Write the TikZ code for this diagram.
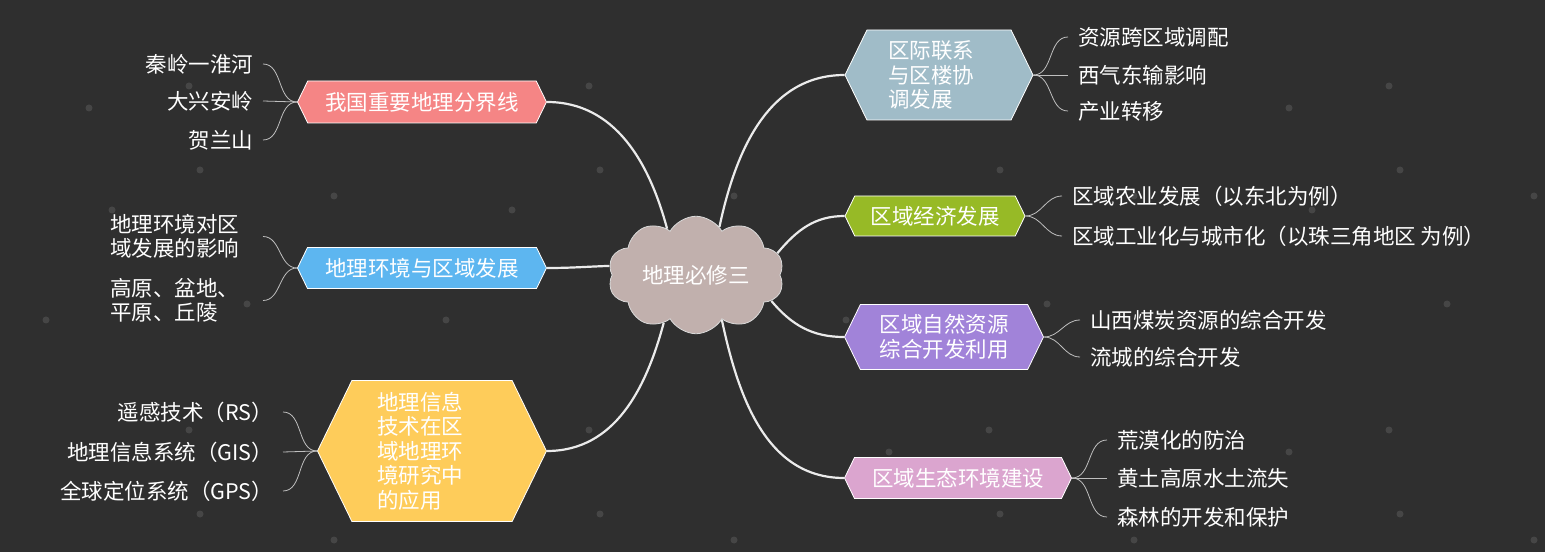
\documentclass[tikz,border=0pt]{standalone}
\usepackage{fontspec}
\newfontfamily\cjk{Noto Sans CJK SC}
\usepackage{tikz}
\usetikzlibrary{shapes.symbols}

\definecolor{bgdark}{RGB}{47,47,47}
\definecolor{dotgray}{RGB}{70,70,70}
\definecolor{cloudgray}{RGB}{193,176,173}
\definecolor{hexpink}{RGB}{245,133,133}
\definecolor{hexblue}{RGB}{93,182,240}
\definecolor{hexyellow}{RGB}{254,204,90}
\definecolor{hexsteel}{RGB}{160,188,200}
\definecolor{hexgreen}{RGB}{151,186,38}
\definecolor{hexpurple}{RGB}{161,131,217}
\definecolor{hexlav}{RGB}{219,165,207}

\begin{document}
\begin{tikzpicture}[x=1pt,y=1pt,
  every node/.style={font=\fontsize{21.5}{24.5}\selectfont\cjk, text=white},
  hexa/.style={signal, signal to=west and east, signal pointer angle=128,
    draw=white, line width=0.8pt, inner sep=0pt},
  cloudy/.style={cloud, cloud puffs=10, cloud puff arc=120, aspect=1.6,
    minimum width=176pt, minimum height=108pt, inner sep=0pt,
    fill=cloudgray, draw=white!85!black, line width=0.8pt},
  leaf/.style={inner sep=0pt, outer xsep=10pt},
  twig/.style={draw=white!75!black, line width=0.8pt},
  limb/.style={draw=white!92!black, line width=2.2pt}]
  \useasboundingbox (0,0) rectangle (1545,552);
  \fill[bgdark] (0,0) rectangle (1545,552);
  % faint background dots
  \foreach \dx in {-400,0,400,800,1200} {
    \foreach \px/\py in {189/86,200/170,89/108,112/210,334/196,247/304,46/320}
      \fill[dotgray] ({\px+\dx},{552-\py}) circle (3.5);
    \foreach \px/\py in {189/430,200/514,89/452,334/540}
      \fill[dotgray] ({\px+\dx},{552-\py}) circle (3.5);
  }

  % centre and main topics
  \node[cloudy] (core) at (696,277) {地理必修三};
  \node[hexa, fill=hexpink, minimum width=249pt, minimum height=42pt] (bound) at (422,450) {我国重要地理分界线};
  \node[hexa, fill=hexblue, minimum width=249pt, minimum height=41pt] (envdev) at (422,284) {地理环境与区域发展};
  \node[hexa, fill=hexyellow, minimum width=229pt, minimum height=141pt,
    text width=110pt, align=left] (geoinfo) at (432,101) {地理信息\\技术在区\\域地理环\\境研究中\\的应用};
  \node[hexa, fill=hexsteel, minimum width=188pt, minimum height=90pt,
    text width=102pt, align=left] (link) at (939,477) {区际联系\\与区楼协\\调发展};
  \node[hexa, fill=hexgreen, minimum width=180pt, minimum height=40pt] (econ) at (935,336) {区域经济发展};
  \node[hexa, fill=hexpurple, minimum width=199pt, minimum height=65pt,
    align=center] (natres) at (944,215) {区域自然资源\\综合开发利用};
  \node[hexa, fill=hexlav, minimum width=227pt, minimum height=41pt] (ecol) at (958,74) {区域生态环境建设};

  % left leaves
  \node[leaf, anchor=east] (qinling) at (263,488) {秦岭一淮河};
  \node[leaf, anchor=east] (xingan) at (263,451) {大兴安岭};
  \node[leaf, anchor=east] (helan) at (263,412) {贺兰山};
  \node[leaf, anchor=east, text width=143pt, align=left] (effect) at (263,315.5) {地理环境对区\\域发展的影响};
  \node[leaf, anchor=east, text width=143pt, align=left] (terrain) at (263,251.5) {高原、盆地、\\平原、丘陵};
  \node[leaf, anchor=east] (rs) at (283,140) {遥感技术（RS）};
  \node[leaf, anchor=east] (gis) at (283,100) {地理信息系统（GIS）};
  \node[leaf, anchor=east] (gps) at (283,61) {全球定位系统（GPS）};

  % right leaves
  \node[leaf, anchor=west] (transfer) at (1068,515) {资源跨区域调配};
  \node[leaf, anchor=west] (gas) at (1068,477) {西气东输影响};
  \node[leaf, anchor=west] (industry) at (1068,441) {产业转移};
  \node[leaf, anchor=west] (farm) at (1062,356) {区域农业发展（以东北为例）};
  \node[leaf, anchor=west] (urban) at (1062,316) {区域工业化与城市化（以珠三角地区 为例）};
  \node[leaf, anchor=west] (coal) at (1080,232) {山西煤炭资源的综合开发};
  \node[leaf, anchor=west] (basin) at (1080,195) {流城的综合开发};
  \node[leaf, anchor=west] (desert) at (1107,112) {荒漠化的防治};
  \node[leaf, anchor=west] (loess) at (1107,74) {黄土高原水土流失};
  \node[leaf, anchor=west] (forest) at (1107,35) {森林的开发和保护};

  % main limbs
  \draw[limb] (core.122) to[out=105,in=0] (bound.east);
  \draw[limb] (core.174) to[out=182,in=0] (envdev.east);
  \draw[limb] (core.236) to[out=255,in=0] (geoinfo.east);
  \draw[limb] (core.64) to[out=78,in=180] (link.west);
  \draw[limb] (core.15) to[out=50,in=180] (econ.west);
  \draw[limb] (core.341) to[out=-50,in=180] (natres.west);
  \draw[limb] (core.300) to[out=-78,in=180] (ecol.west);

  % twigs
  \draw[twig] (bound.west) to[out=180,in=0] (qinling.east);
  \draw[twig] (bound.west) -- (xingan.east);
  \draw[twig] (bound.west) to[out=180,in=0] (helan.east);
  \draw[twig] (envdev.west) to[out=180,in=0] (effect.east);
  \draw[twig] (envdev.west) to[out=180,in=0] (terrain.east);
  \draw[twig] (geoinfo.west) to[out=180,in=0] (rs.east);
  \draw[twig] (geoinfo.west) -- (gis.east);
  \draw[twig] (geoinfo.west) to[out=180,in=0] (gps.east);
  \draw[twig] (link.east) to[out=0,in=180] (transfer.west);
  \draw[twig] (link.east) -- (gas.west);
  \draw[twig] (link.east) to[out=0,in=180] (industry.west);
  \draw[twig] (econ.east) to[out=0,in=180] (farm.west);
  \draw[twig] (econ.east) to[out=0,in=180] (urban.west);
  \draw[twig] (natres.east) to[out=0,in=180] (coal.west);
  \draw[twig] (natres.east) to[out=0,in=180] (basin.west);
  \draw[twig] (ecol.east) to[out=0,in=180] (desert.west);
  \draw[twig] (ecol.east) -- (loess.west);
  \draw[twig] (ecol.east) to[out=0,in=180] (forest.west);
\end{tikzpicture}
\end{document}
